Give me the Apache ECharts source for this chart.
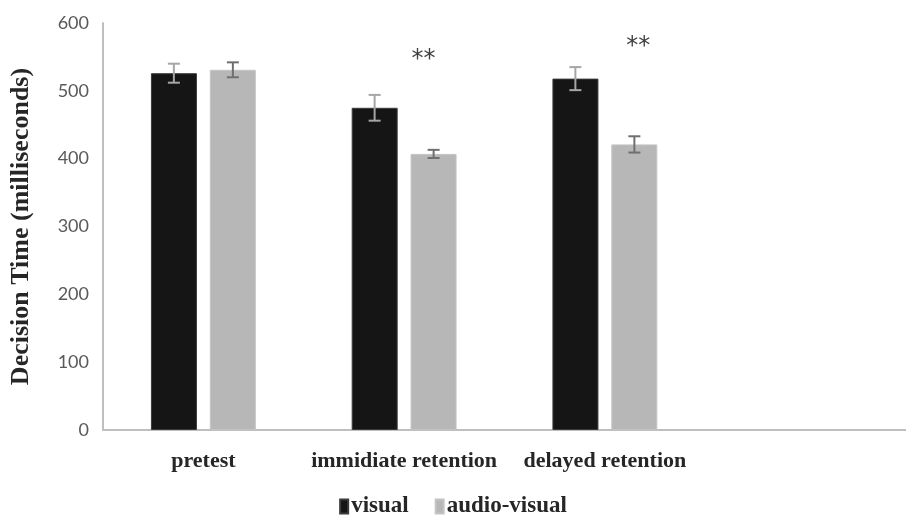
<!DOCTYPE html>
<html>
<head>
<meta charset="utf-8">
<script src="https://cdn.jsdelivr.net/npm/echarts@6/dist/echarts.min.js"></script>
<style>
  html, body { margin: 0; padding: 0; background: #fff; }
  #main { width: 906px; height: 515px; }
</style>
</head>
<body>
<div id="main"></div>
<script>
// 数据
var categories = ['pretest', 'immidiate retention', 'delayed retention', ''];
var visual = [526, 475, 518, null];
var visualErr = [14, 19, 17, null];
var audioVisual = [531, 407, 421, null];
var audioVisualErr = [11, 6, 12, null];
// 显著性标记 [类别序号, 高度]
var stars = [[1, 553], [2, 572]];
var starOffsetX = [-10, 4];

var myChart = echarts.init(document.getElementById('main'));

// 误差线
function errorSeries(name, values, errs, color, seriesIndex) {
	var data = [];
	for (var i = 0; i < values.length; i++) {
		if (values[i] != null) data.push([i, values[i] - errs[i], values[i] + errs[i]]);
	}
	return {
		name: name,
		type: 'custom',
		z: 10,
		silent: true,
		data: data,
		renderItem: function(params, api) {
			var idx = api.value(0);
			var lo = api.coord([idx, api.value(1)]);
			var hi = api.coord([idx, api.value(2)]);
			var barW = 46, gap = 13;
			var x = lo[0] + (seriesIndex === 0 ? -(gap / 2 + barW / 2) : (gap / 2 + barW / 2));
			var cap = 6;
			var style = { stroke: color, lineWidth: 2 };
			return {
				type: 'group',
				children: [
					{ type: 'line', shape: { x1: x, y1: hi[1], x2: x, y2: lo[1] }, style: style },
					{ type: 'line', shape: { x1: x - cap, y1: hi[1], x2: x + cap, y2: hi[1] }, style: style },
					{ type: 'line', shape: { x1: x - cap, y1: lo[1], x2: x + cap, y2: lo[1] }, style: style }
				]
			};
		}
	};
}

var serifFont = '"Liberation Serif", "DejaVu Serif", serif';

var option = {
	animation: false,
	backgroundColor: '#fff',
	grid: { left: 94, top: 23, width: 820, height: 407, containLabel: false },
	legend: {
		top: 490,
		left: 'center',
		icon: 'rect',
		itemWidth: 8,
		itemHeight: 14,
		itemGap: 26,
		data: ['visual', 'audio-visual'],
		textStyle: { fontFamily: serifFont, fontWeight: 'bold', fontSize: 23, color: '#262626', padding: [0, 0, 0, -2] }
	},
	xAxis: {
		type: 'category',
		data: categories,
		axisLine: { lineStyle: { color: '#bfbfbf', width: 2 } },
		axisTick: { show: false },
		axisLabel: { interval: 0, fontFamily: serifFont, fontWeight: 'bold', fontSize: 22, color: '#262626', margin: 20 }
	},
	yAxis: {
		type: 'value',
		min: 0,
		max: 600,
		interval: 100,
		name: 'Decision Time (milliseconds)',
		nameLocation: 'middle',
		nameGap: 69,
		nameTextStyle: { fontFamily: serifFont, fontWeight: 'bold', fontSize: 26, color: '#262626' },
		axisLine: { show: true, lineStyle: { color: '#bfbfbf', width: 2 } },
		axisTick: { show: false },
		splitLine: { show: false },
		axisLabel: { fontFamily: 'Lato, "Open Sans", sans-serif', fontSize: 18, color: '#595959', margin: 14 }
	},
	series: [
		{
			name: 'visual',
			type: 'bar',
			data: visual,
			barWidth: 46,
			barGap: '28%',
			itemStyle: { color: '#151515', borderColor: '#3a3a3a', borderWidth: 1 }
		},
		{
			name: 'audio-visual',
			type: 'bar',
			data: audioVisual,
			barWidth: 46,
			itemStyle: { color: '#b7b7b7', borderColor: '#c4c4c4', borderWidth: 1 },
			markPoint: {
				symbol: 'circle',
				symbolSize: 0,
				data: stars.map(function(s, i) {
					return {
						coord: [s[0], s[1]],
						label: {
							show: true,
							formatter: '**',
							offset: [starOffsetX[i], 5],
							fontFamily: '"DejaVu Sans", sans-serif',
							fontSize: 24,
							color: '#404040'
						}
					};
				})
			}
		},
		errorSeries('visual-err', visual, visualErr, '#a6a6a6', 0),
		errorSeries('audio-visual-err', audioVisual, audioVisualErr, '#6f6f6f', 1)
	]
};

myChart.setOption(option);
</script>
</body>
</html>
